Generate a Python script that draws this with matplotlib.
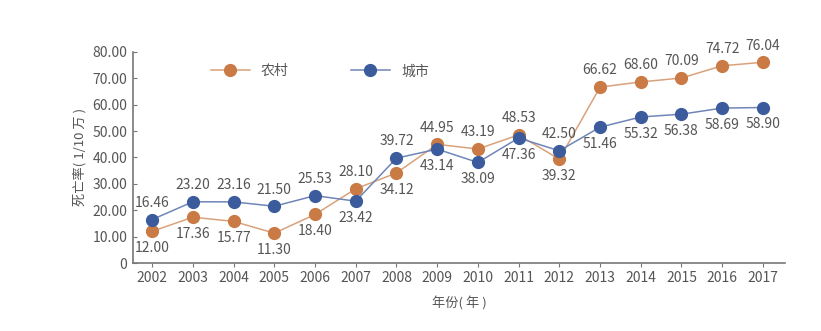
import numpy as np
import matplotlib.pyplot as plt

plt.rcParams['font.family'] = ['Noto Sans CJK SC', 'DejaVu Sans']

years = list(range(2002, 2018))
rural = [12.00, 17.36, 15.77, 11.30, 18.40, 28.10, 34.12, 44.95, 43.19, 48.53,
         39.32, 66.62, 68.60, 70.09, 74.72, 76.04]
urban = [16.46, 23.20, 23.16, 21.50, 25.53, 23.42, 39.72, 43.14, 38.09, 47.36,
         42.50, 51.46, 55.32, 56.38, 58.69, 58.90]
yticks = [0, 10, 20, 30, 40, 50, 60, 70, 80]

c_rural = '#c97a45'
c_urban = '#3b5b9c'
grey = '#555555'

fig = plt.figure(figsize=(8.21, 3.31), dpi=100)
ax = fig.add_axes([0.162, 0.2054, 0.794, 0.638])

ax.plot(years, rural, color='#d9a27c', lw=1.1, marker='o', ms=8.5,
        mfc=c_rural, mec=c_rural, label='农村', zorder=3)
ax.plot(years, urban, color='#6f86b8', lw=1.1, marker='o', ms=8.5,
        mfc=c_urban, mec=c_urban, label='城市', zorder=3)

# 较大值标签放上方，较小值放下方
for x, r, u in zip(years, rural, urban):
    for v, other in ((r, u), (u, r)):
        up = v >= other
        ax.annotate(f'{v:.2f}', (x, v), xytext=(0, 7 if up else -7),
                    textcoords='offset points', ha='center',
                    va='bottom' if up else 'top', fontsize=10, color=grey)

ax.set_xlim(2001.53, 2017.54)
ax.set_ylim(0, 80)
ax.set_xticks(years)
ax.set_xticklabels([str(y) for y in years])
ax.set_yticks(yticks)
ax.set_yticklabels(['0'] + [f'{t:.2f}' for t in yticks[1:]])
ax.tick_params(axis='x', direction='out', length=3, colors='#777777',
               labelcolor=grey, labelsize=10, pad=3)
ax.tick_params(axis='y', direction='in', length=3, colors='#777777',
               labelcolor=grey, labelsize=10, pad=4)
for s in ('top', 'right'):
    ax.spines[s].set_visible(False)
for s in ('left', 'bottom'):
    ax.spines[s].set_color('#777777')
    ax.spines[s].set_linewidth(1.2)

ax.set_ylabel('死亡率( 1/10 万 )', fontsize=9.5, color=grey, labelpad=4)
ax.set_xlabel('年份( 年 )', fontsize=9.5, color=grey, labelpad=8)

ax.legend(loc='upper left', bbox_to_anchor=(0.1, 1.0), ncol=2, frameon=False,
          fontsize=10, labelcolor=grey, columnspacing=4.5, handlelength=2.8,
          markerscale=1.0)

fig.savefig('out.png', dpi=100)
